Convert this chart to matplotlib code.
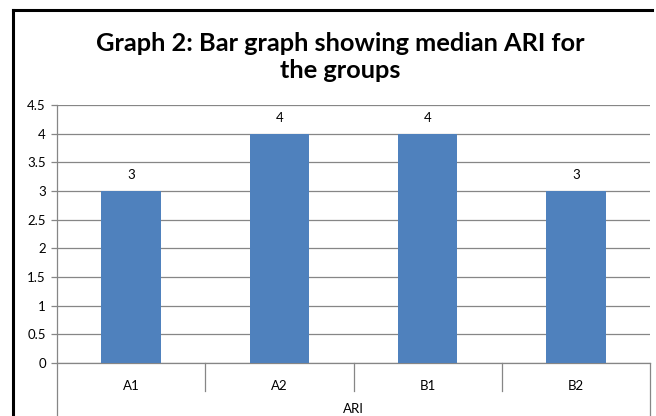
import matplotlib.pyplot as plt
from matplotlib.lines import Line2D
from matplotlib import transforms

groups = ['A1', 'A2', 'B1', 'B2']
median_ari = [3, 4, 4, 3]
y_ticks = [0, 0.5, 1, 1.5, 2, 2.5, 3, 3.5, 4, 4.5]
y_labels = ['0', '0.5', '1', '1.5', '2', '2.5', '3', '3.5', '4', '4.5']

plt.rcParams['font.family'] = ['Lato', 'DejaVu Sans']

W, H = 656, 416
fig = plt.figure(figsize=(W / 100, H / 100), dpi=100)

# plot area in pixel terms
left, right, top, bottom = 57, 650, 105, 363
ax = fig.add_axes([left / W, 1 - bottom / H, (right - left) / W, (bottom - top) / H])

grid_col = '#868686'
pos = list(range(len(groups)))
bars = ax.bar(pos, median_ari, width=0.4, color='#4F81BD', zorder=3)
ax.bar_label(bars, labels=[str(v) for v in median_ari], padding=7, fontsize=9.5)

ax.set_xlim(-0.5, len(groups) - 0.5)
ax.set_ylim(0, 4.5)
ax.set_yticks(y_ticks)
ax.set_yticklabels(y_labels, fontsize=9.5)
ax.yaxis.grid(True, color=grid_col, linewidth=0.9, zorder=0)
ax.tick_params(axis='y', length=4, color=grid_col, width=0.9, pad=4)

ax.set_xticks(pos)
ax.set_xticklabels(groups, fontsize=9.5)
ax.tick_params(axis='x', length=0, pad=12)
ax.set_xlabel('ARI', fontsize=9.5, labelpad=8)

for s in ['top', 'right']:
    ax.spines[s].set_visible(False)
for s in ['left', 'bottom']:
    ax.spines[s].set_color(grid_col)
    ax.spines[s].set_linewidth(0.9)

# category separators below the axis (Excel style)
trans = transforms.blended_transform_factory(ax.transData, ax.transAxes)
sep_low = -(391 - bottom) / (bottom - top)
edge_low = -(H - bottom) / (bottom - top)
for x in [0.5, 1.5, 2.5]:
    ax.plot([x, x], [0, sep_low], color=grid_col, lw=0.9, transform=trans, clip_on=False)
for x in [-0.5, len(groups) - 0.5]:
    ax.plot([x, x], [0, edge_low], color=grid_col, lw=0.9, transform=trans, clip_on=False)

fig.text(0.518, 1 - 57 / H, 'Graph 2: Bar graph showing median ARI for\nthe groups',
         ha='center', va='center', fontsize=18.3, fontweight='bold', linespacing=1.25)

# chart border
bx, by, bx2 = 13 / W, 1 - 10 / H, 652 / W
fig.add_artist(Line2D([bx, bx], [0, by], color='black', lw=2.2, transform=fig.transFigure))
fig.add_artist(Line2D([bx, bx2], [by, by], color='black', lw=2.2, transform=fig.transFigure))

fig.savefig('out.png', dpi=100)
